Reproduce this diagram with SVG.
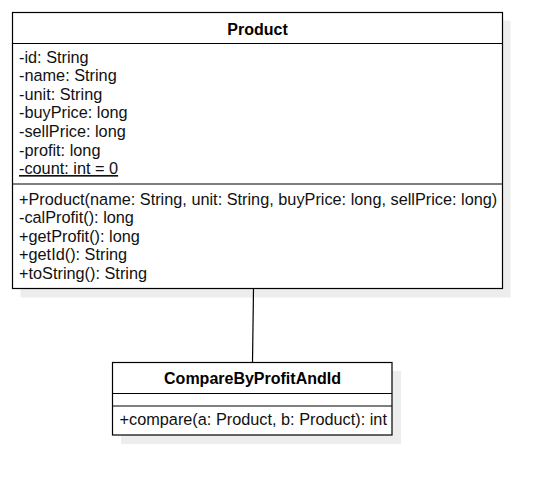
<svg xmlns="http://www.w3.org/2000/svg" width="552" height="485" viewBox="0 0 552 485">
<defs>
<style>
.shadow{fill:#000;fill-opacity:0.07;stroke:none}
.box{fill:#fff;stroke:#000;stroke-width:1.2}
.sep{stroke:#000;stroke-width:1.2;fill:none}
.t{font-family:"Liberation Sans",Arial,sans-serif;font-size:16.3px;fill:#111}
.title{font-family:"Liberation Sans",Arial,sans-serif;font-size:16px;font-weight:bold;fill:#000;text-anchor:middle}
.conn{stroke:#000;stroke-width:1.2;fill:none}
</style>
</defs>
<rect width="552" height="485" fill="#fff"/>
<g id="connectors">
<line class="conn" x1="253.5" y1="289" x2="252.5" y2="362"/>
</g>
<g id="Product">
<rect class="shadow" x="20.5" y="20.5" width="490" height="277"/>
<rect class="box" x="12.5" y="12.5" width="490" height="276"/>
<line class="sep" x1="12.5" y1="43.5" x2="502.5" y2="43.5"/>
<line class="sep" x1="12.5" y1="184" x2="502.5" y2="184"/>
<text class="title" x="257.5" y="34.5">Product</text>
<text class="t" x="19" y="62.5">-id: String</text>
<text class="t" x="19" y="81.1">-name: String</text>
<text class="t" x="19" y="99.7">-unit: String</text>
<text class="t" x="19" y="118.3">-buyPrice: long</text>
<text class="t" x="19" y="136.9">-sellPrice: long</text>
<text class="t" x="19" y="155.5">-profit: long</text>
<text class="t" x="19" y="174" text-decoration="underline">-count: int = 0</text>
<text class="t" x="19" y="204.5">+Product(name: String, unit: String, buyPrice: long, sellPrice: long)</text>
<text class="t" x="19" y="223">-calProfit(): long</text>
<text class="t" x="19" y="241.5">+getProfit(): long</text>
<text class="t" x="19" y="260">+getId(): String</text>
<text class="t" x="19" y="278.5">+toString(): String</text>
</g>
<g id="CompareByProfitAndId">
<rect class="shadow" x="121" y="371" width="280" height="73"/>
<rect class="box" x="112.5" y="362.5" width="279.5" height="72.5"/>
<line class="sep" x1="112.5" y1="393.5" x2="392" y2="393.5"/>
<line class="sep" x1="112.5" y1="406" x2="392" y2="406"/>
<text class="title" x="252.5" y="383.5">CompareByProfitAndId</text>
<text class="t" x="119.5" y="424.5">+compare(a: Product, b: Product): int</text>
</g>
</svg>
